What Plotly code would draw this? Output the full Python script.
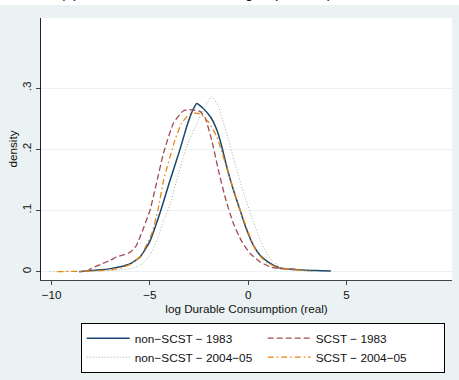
import plotly.graph_objects as go

# ---- data ----
x_nonscst_1983 = [-8.6, -8.0, -7.5, -7.0, -6.5, -6.0, -5.5, -5.0, -4.5, -4.0, -3.5, -3.1, -2.85, -2.62,
                  -2.3, -1.9, -1.6, -1.35, -1.1, -0.76, -0.42, -0.1, 0.26, 0.6, 1.1, 1.6, 2.1, 2.6, 3.2, 3.7, 4.2]
y_nonscst_1983 = [0.000, 0.002, 0.003, 0.005, 0.008, 0.013, 0.024, 0.050, 0.095, 0.147, 0.197, 0.240, 0.262, 0.275,
                  0.267, 0.252, 0.232, 0.205, 0.172, 0.134, 0.101, 0.070, 0.043, 0.027, 0.014, 0.006, 0.004, 0.003, 0.002, 0.0015, 0.001]

x_scst_1983 = [-8.2, -8.0, -7.5, -7.0, -6.7, -6.3, -6.0, -5.7, -5.5, -5.0, -4.7, -4.3, -3.8, -3.3, -3.0,
               -2.7, -2.45, -2.2, -1.86, -1.52, -1.18, -0.76, -0.34, 0.09, 0.6, 1.1, 1.6, 2.3, 2.6]
y_scst_1983 = [0.000, 0.005, 0.012, 0.019, 0.024, 0.028, 0.032, 0.042, 0.057, 0.100, 0.140, 0.195, 0.243, 0.263, 0.265,
               0.264, 0.262, 0.252, 0.215, 0.166, 0.122, 0.079, 0.050, 0.030, 0.016, 0.008, 0.005, 0.0045, 0.002]

x_nonscst_2004 = [-10.1, -9.0, -8.0, -7.0, -6.5, -6.0, -5.5, -5.0, -4.6, -4.3, -4.0, -3.64, -3.13, -2.62, -2.2,
                  -1.86, -1.52, -1.1, -0.68, -0.25, 0.26, 0.6, 1.1, 1.6, 2.2, 3.0]
y_nonscst_2004 = [0.000, 0.0003, 0.0008, 0.002, 0.003, 0.005, 0.010, 0.027, 0.055, 0.085, 0.107, 0.150, 0.205, 0.242, 0.270,
                  0.286, 0.270, 0.226, 0.177, 0.130, 0.082, 0.052, 0.022, 0.008, 0.004, 0.001]

x_scst_2004 = [-9.7, -9.0, -8.0, -7.0, -6.5, -6.0, -5.5, -5.2, -4.9, -4.6, -4.3, -3.73, -3.39, -2.97, -2.7,
               -2.45, -2.03, -1.61, -1.27, -0.85, -0.42, 0.09, 0.43, 0.94, 1.4, 1.8, 2.4, 3.2]
y_scst_2004 = [0.000, 0.0005, 0.001, 0.003, 0.006, 0.012, 0.025, 0.042, 0.063, 0.100, 0.150, 0.215, 0.2425, 0.258, 0.259,
               0.258, 0.245, 0.221, 0.188, 0.144, 0.101, 0.057, 0.032, 0.015, 0.008, 0.005, 0.003, 0.001]

x_tick_vals = [-10, -5, 0, 5]
y_tick_vals = [0, 0.1, 0.2, 0.3]
y_tick_text = ["0", ".1", ".2", ".3"]

series_names = ["non\u2212SCST \u2212 1983", "SCST \u2212 1983",
                "non\u2212SCST \u2212 2004\u221205", "SCST \u2212 2004\u221205"]

FONT = "Liberation Sans, Arial, sans-serif"
BG = "#EAF2F3"

fig = go.Figure()
fig.add_trace(go.Scatter(x=x_nonscst_1983, y=y_nonscst_1983, mode="lines", name=series_names[0],
                         line=dict(color="#1A476F", width=1.5, shape="spline", smoothing=0.5)))
fig.add_trace(go.Scatter(x=x_scst_1983, y=y_scst_1983, mode="lines", name=series_names[1],
                         line=dict(color="#A34A50", width=1.3, dash="6px,3px", shape="spline", smoothing=0.5)))
fig.add_trace(go.Scatter(x=x_nonscst_2004, y=y_nonscst_2004, mode="lines", name=series_names[2],
                         line=dict(color="#A9B293", width=1, dash="1px,2px", shape="spline", smoothing=0.5)))
fig.add_trace(go.Scatter(x=x_scst_2004, y=y_scst_2004, mode="lines", name=series_names[3],
                         line=dict(color="#E8870E", width=1.3, dash="6px,3px,1.5px,3px", shape="spline", smoothing=0.5)))

fig.update_layout(
    width=459, height=380,
    margin=dict(l=41, r=7, t=18, b=100, pad=0, autoexpand=False),
    paper_bgcolor=BG, plot_bgcolor="white",
    font=dict(family=FONT, size=11.7, color="#111"),
    showlegend=True,
    legend=dict(orientation="h", x=(80.7 - 41) / 411, xanchor="left",
                y=(280 - 322.7) / 262, yanchor="top",
                bgcolor="white", bordercolor="black", borderwidth=1,
                entrywidth=123, entrywidthmode="pixels", itemwidth=43,
                font=dict(family=FONT, size=11.8, color="#111"),
                traceorder="normal"),
    xaxis=dict(range=[-10.54, 10.36], tickvals=x_tick_vals, showgrid=False, zeroline=False,
               showline=True, linecolor="#444", linewidth=1.2,
               ticks="outside", ticklen=4, tickcolor="#444", tickwidth=1,
               tickfont=dict(family=FONT, size=11.7, color="#111"),
               title=dict(text="log Durable Consumption (real)", font=dict(family=FONT, size=11.7, color="#111"),
                          standoff=4)),
    yaxis=dict(range=[-0.0136, 0.4146], tickvals=y_tick_vals, ticktext=y_tick_text, tickangle=-90,
               showgrid=True, gridcolor=BG, gridwidth=1, zeroline=False,
               showline=True, linecolor="#222", linewidth=1.2,
               ticks="outside", ticklen=4, tickcolor="#444", tickwidth=1,
               tickfont=dict(family=FONT, size=11.7, color="#111"),
               title=dict(text="density", font=dict(family=FONT, size=11.7, color="#111"), standoff=0)),
)

# white strip and cropped title at the very top of the picture
fig.add_shape(type="rect", xref="paper", yref="paper", x0=-41 / 411, x1=1 + 7 / 411,
              y0=1 + 13 / 262, y1=1 + 20 / 262, fillcolor="white", line=dict(width=0), layer="below")
fig.add_annotation(text="(a) Kernel Densities: Social groups and (Rural & Urban India)",
                   xref="paper", yref="paper", x=(58 - 41) / 411, y=1 + 15 / 262,
                   xanchor="left", yanchor="bottom", showarrow=False,
                   font=dict(family=FONT, size=15, color="#111"))

fig.write_html("out.html")
